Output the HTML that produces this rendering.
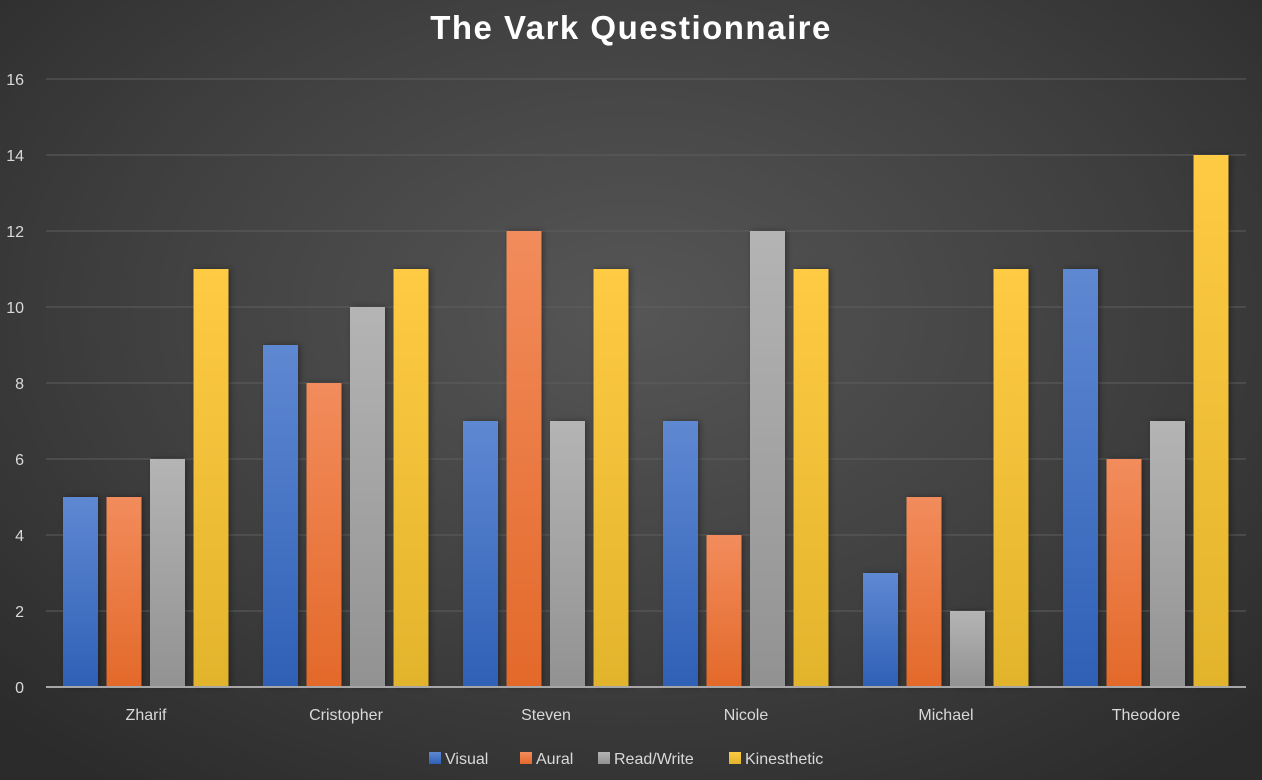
<!DOCTYPE html>
<html><head><meta charset="utf-8"><style>
html,body{margin:0;padding:0;}
body{width:1262px;height:780px;overflow:hidden;background:radial-gradient(ellipse 70% 75% at 50% 40%,#565656 0%,#404040 55%,#2b2b2b 100%);font-family:"Liberation Sans",sans-serif;}
svg{position:absolute;left:0;top:0;}
</style></head><body>
<svg id="chart" width="1262" height="780">
<defs>
<linearGradient id="g0" x1="0" y1="0" x2="0" y2="1"><stop offset="0" stop-color="#5f88d2"/><stop offset="1" stop-color="#2f60b6"/></linearGradient>
<linearGradient id="g1" x1="0" y1="0" x2="0" y2="1"><stop offset="0" stop-color="#f28c5c"/><stop offset="1" stop-color="#e3692a"/></linearGradient>
<linearGradient id="g2" x1="0" y1="0" x2="0" y2="1"><stop offset="0" stop-color="#b4b4b4"/><stop offset="1" stop-color="#929292"/></linearGradient>
<linearGradient id="g3" x1="0" y1="0" x2="0" y2="1"><stop offset="0" stop-color="#ffca44"/><stop offset="1" stop-color="#e2b42c"/></linearGradient>
</defs>
<text x="631" y="39" text-anchor="middle" fill="#ffffff" font-size="33" font-weight="bold" letter-spacing="1.5">The Vark Questionnaire</text>
<g id="grid"></g><g id="bars"></g><g id="axes"></g><g id="legend"></g>
</svg>
<script>
const categories=["Zharif","Cristopher","Steven","Nicole","Michael","Theodore"];
const seriesNames=["Visual","Aural","Read/Write","Kinesthetic"];
const visual=[5,9,7,7,3,11];
const aural=[5,8,12,4,5,6];
const readWrite=[6,10,7,12,2,7];
const kinesthetic=[11,11,11,11,11,14];
const yTicks=[0,2,4,6,8,10,12,14,16];
const series=[visual,aural,readWrite,kinesthetic];
const NS="http://www.w3.org/2000/svg";
const L=46,R=1246,T=79,B=687,yMax=16;
const y=v=>B-(B-T)*v/yMax;
const bw=(R-L)/categories.length;
const x=(i,s)=>L+i*bw+17+s*43.5;
function mk(tag,attrs,parent,text){const e=document.createElementNS(NS,tag);for(const k in attrs)e.setAttribute(k,attrs[k]);if(text!==undefined)e.textContent=text;parent.appendChild(e);return e;}
const grid=document.getElementById('grid'),axes=document.getElementById('axes'),bars=document.getElementById('bars'),legend=document.getElementById('legend');
yTicks.forEach(t=>{
 if(t>0){const g=mk('line',{x1:L,x2:R,y1:y(t),y2:y(t),stroke:'#5e5e5e','stroke-width':1},grid);
 
 }
 const lb=mk('text',{x:24,y:y(t)+6,'text-anchor':'end',fill:'#d9d9d9','font-size':16},axes,t);
 
 
});
const ax=mk('line',{x1:L,x2:R,y1:B,y2:B,stroke:'#a6a6a6','stroke-width':2},axes);


categories.forEach((c,i)=>{
 const lb=mk('text',{x:L+i*bw+bw/2,y:720,'text-anchor':'middle',fill:'#d9d9d9','font-size':16},axes,c);
 
 
 series.forEach((s,k)=>{
  const r=mk('rect',{x:x(i,k),y:y(s[i]),width:35,height:B-y(s[i]),fill:'url(#g'+k+')',style:'filter:drop-shadow(2px 0 3px rgba(0,0,0,0.35))'},bars);
  
  
 });
});
const lx=[429,520,598,729];
seriesNames.forEach((n,k)=>{
 const g=mk('g',{},legend);
 
 
 mk('rect',{x:lx[k],y:752,width:12,height:12,fill:'url(#g'+k+')'},g);
 mk('text',{x:lx[k]+16,y:764,fill:'#d9d9d9','font-size':16},g,n);
});
</script>
</body></html>
